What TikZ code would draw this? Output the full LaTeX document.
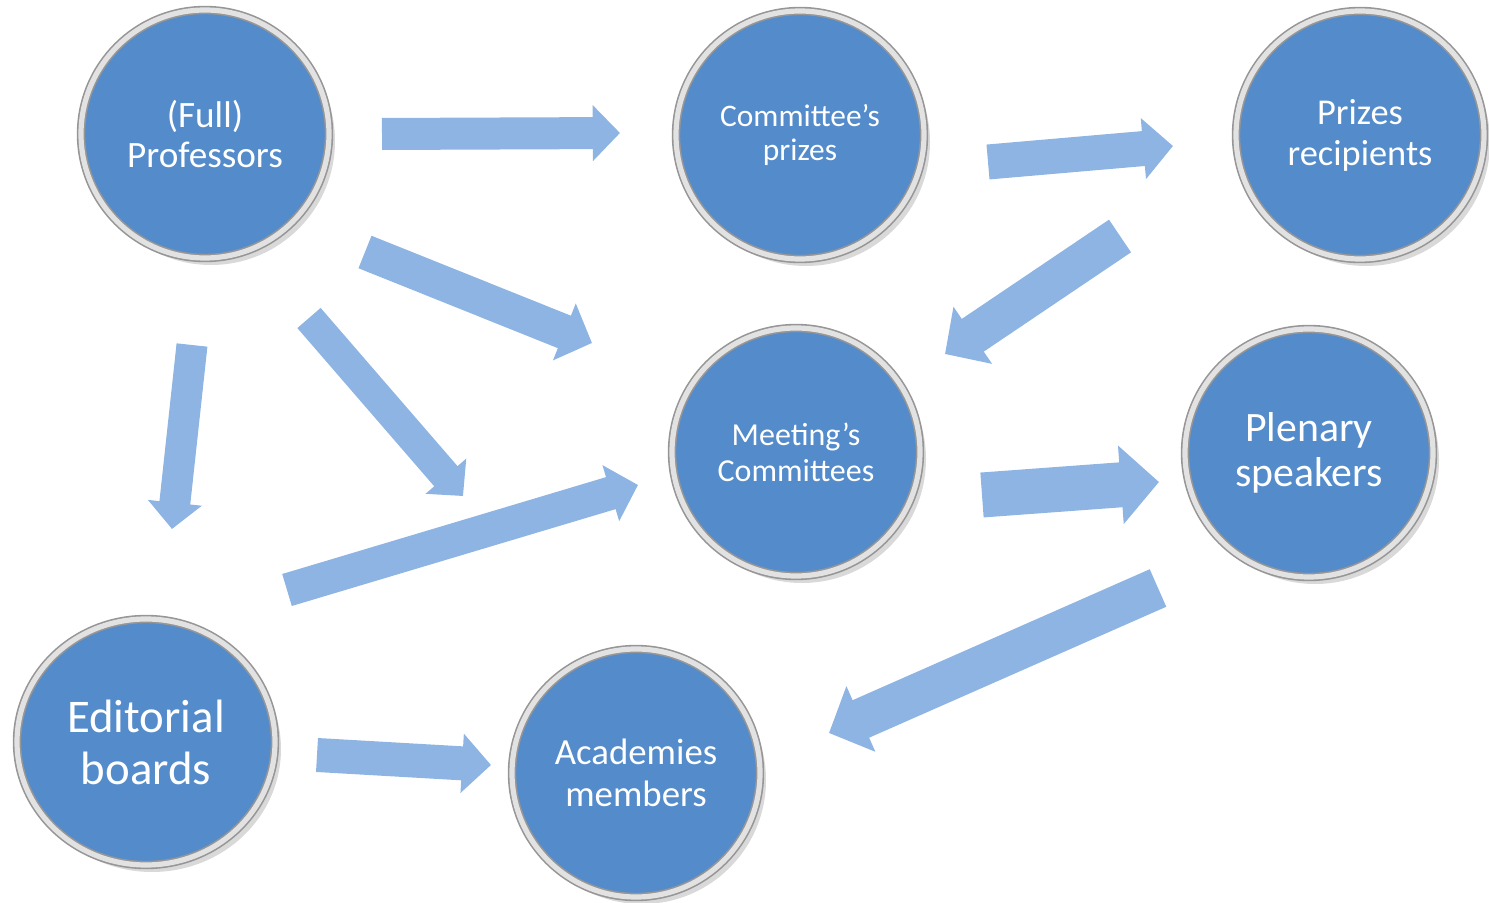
\documentclass[tikz,border=0pt]{standalone}
\usepackage{fontspec}
\setmainfont{Carlito}
\usetikzlibrary{arrows.meta,shadows,shapes.geometric}

\definecolor{discblue}{RGB}{84,139,203}
\definecolor{flowblue}{RGB}{141,180,226}
\definecolor{ringgray}{RGB}{150,150,150}
\definecolor{ringlight}{RGB}{226,226,226}

\tikzset{
  disc/.style={circle, minimum size=124pt, inner sep=0pt, fill=discblue,
    draw=ringgray, double=ringlight, double distance=2.6pt, line width=.8pt,
    text=white, align=center,
    drop shadow={shadow xshift=3pt, shadow yshift=-3.5pt, opacity=.3}},
  flow/.style={draw=flowblue, line width=#1, -{Triangle[width=0pt 1.7, length=0pt 0.85]}}
}

\begin{document}
\begin{tikzpicture}[x=0.5pt,y=-0.5pt]
            \useasboundingbox (0,0) rectangle (1489,903);
            % discs
            \node[disc, font=\fontsize{18.6}{20}\selectfont] (prof) at (205,134) {(Full)\\Professors};
            \node[disc, font=\fontsize{15.7}{17}\selectfont] (cprize) at (800,135) {Committee’s\\prizes};
            \node[disc, font=\fontsize{18.2}{20.5}\selectfont] (recip) at (1360,135) {Prizes\\recipients};
            \node[disc, font=\fontsize{16}{18}\selectfont] (meet) at (796,452) {Meeting’s\\Committees};
            \node[disc, font=\fontsize{20.9}{22.5}\selectfont] (plen) at (1309,453) {Plenary\\speakers};
            \node[disc, ellipse, minimum width=129pt, minimum height=123pt, font=\fontsize{23.4}{26}\selectfont] (edit) at (146,742) {Editorial\\boards};
            \node[disc, font=\fontsize{18.4}{21}\selectfont] (acad) at (636,773) {Academies\\members};
            % arrow ends
            \coordinate (prof-cprize-a) at (382,134);
            \coordinate (prof-cprize-b) at (620,133);
            \coordinate (cprize-recip-a) at (988,162);
            \coordinate (cprize-recip-b) at (1173,146);
            \coordinate (recip-meet-a) at (1120,236);
            \coordinate (recip-meet-b) at (945,354);
            \coordinate (prof-meet-a) at (365,252);
            \coordinate (prof-meet-b) at (592,343);
            \coordinate (prof-edit-a) at (192,345);
            \coordinate (prof-edit-b) at (172,529);
            \coordinate (prof-mid-a) at (309,318);
            \coordinate (prof-mid-b) at (463,496);
            \coordinate (edit-meet-a) at (287,590);
            \coordinate (edit-meet-b) at (638,485);
            \coordinate (meet-plen-a) at (982,495);
            \coordinate (meet-plen-b) at (1159,482);
            \coordinate (plen-acad-a) at (1158,588);
            \coordinate (plen-acad-b) at (829,733);
            \coordinate (edit-acad-a) at (317,755);
            \coordinate (edit-acad-b) at (491,765);
            % block arrows
            \draw[flow=16pt] (prof-cprize-a) -- (prof-cprize-b);
            \draw[flow=17.5pt] (cprize-recip-a) -- (cprize-recip-b);
            \draw[flow=19.7pt] (recip-meet-a) -- (recip-meet-b);
            \draw[flow=17.5pt] (prof-meet-a) -- (prof-meet-b);
            \draw[flow=15.5pt] (prof-edit-a) -- (prof-edit-b);
            \draw[flow=15.4pt] (prof-mid-a) -- (prof-mid-b);
            \draw[flow=16.7pt] (edit-meet-a) -- (edit-meet-b);
            \draw[flow=22.5pt] (meet-plen-a) -- (meet-plen-b);
            \draw[flow=20.5pt] (plen-acad-a) -- (plen-acad-b);
            \draw[flow=17pt] (edit-acad-a) -- (edit-acad-b);
        \end{tikzpicture}
\end{document}
